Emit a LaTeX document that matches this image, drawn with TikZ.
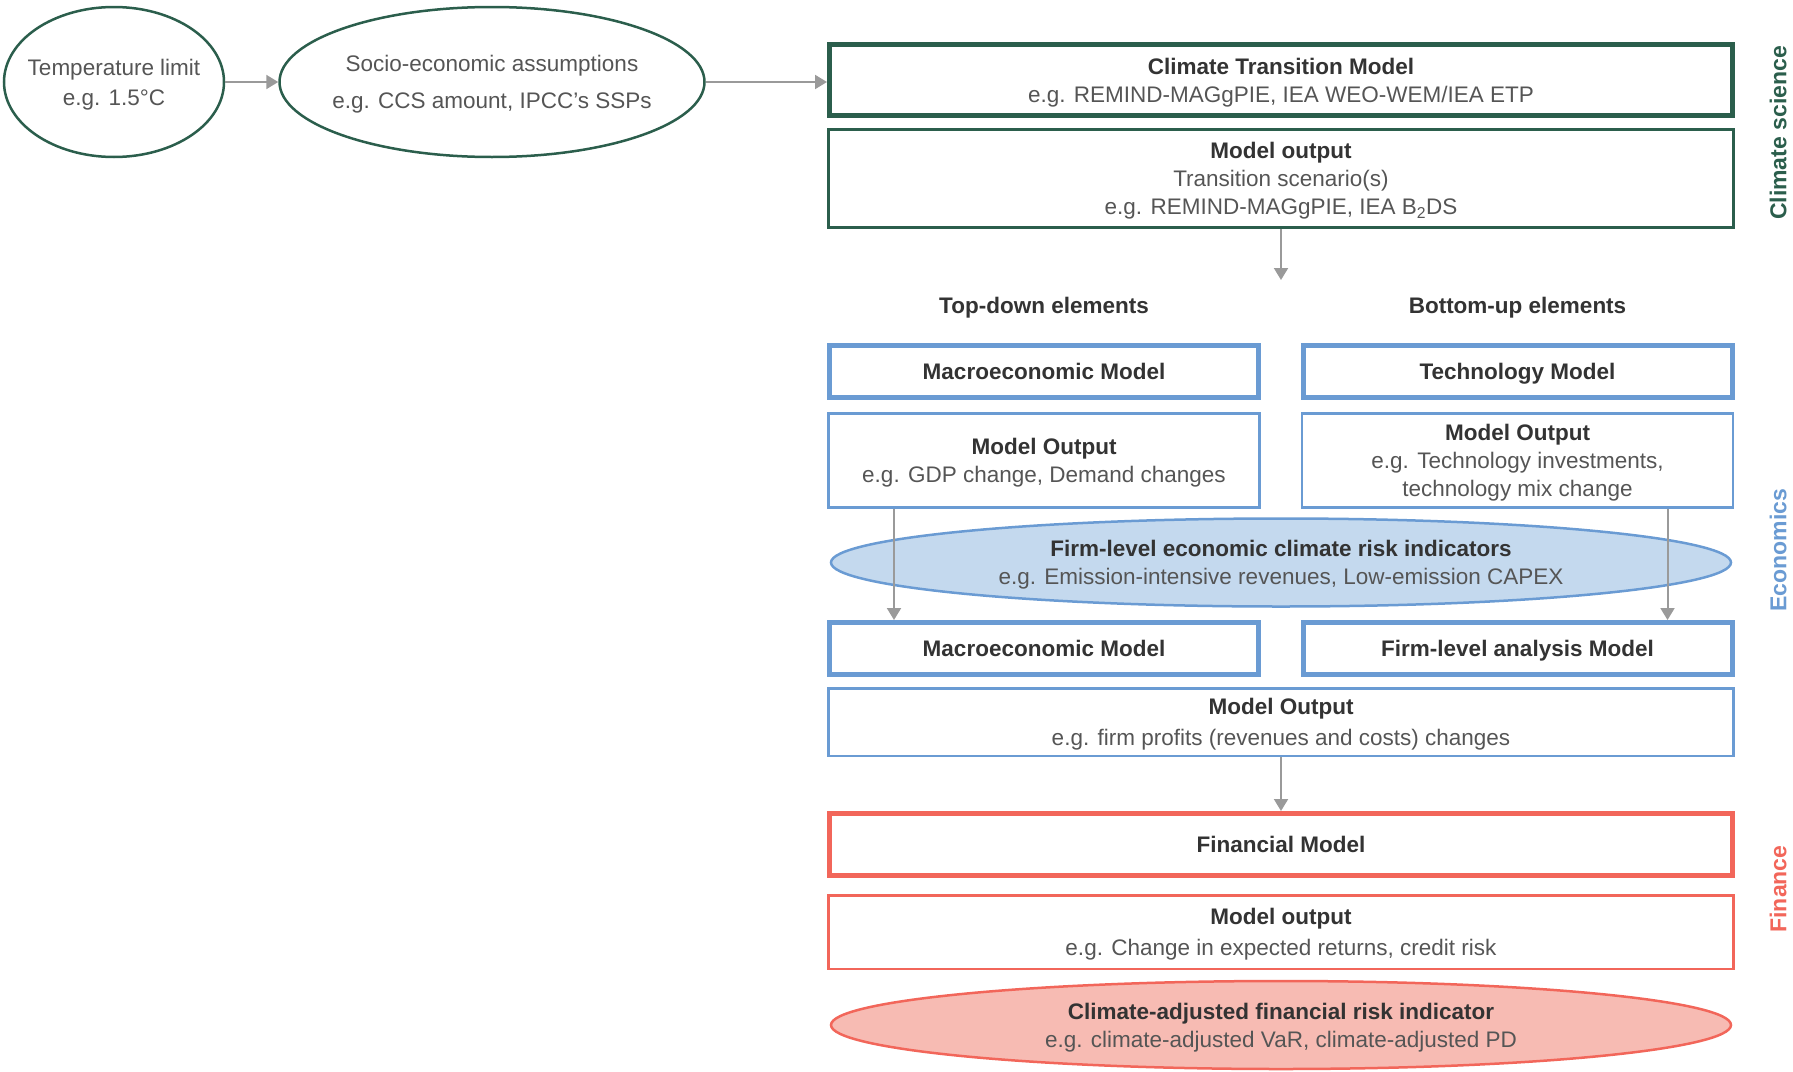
\documentclass[tikz,border=0pt]{standalone}
\usepackage{fontspec}
\setmainfont{Liberation Sans}
\usetikzlibrary{shapes.geometric,arrows.meta}

\definecolor{csgreen}{HTML}{2B5E4C}
\definecolor{ecblue}{HTML}{6A9BD3}
\definecolor{ecfill}{HTML}{C4D9EE}
\definecolor{fired}{HTML}{F2665A}
\definecolor{fifill}{HTML}{F7BBB3}
\definecolor{arrgray}{HTML}{9A9A9A}
\definecolor{headgray}{HTML}{333333}
\definecolor{txtgray}{HTML}{555555}

\newcommand{\hd}[1]{{\bfseries\color{headgray}#1}}

\begin{document}
\begin{tikzpicture}[
	x=1pt, y=-1pt,
	every node/.style={align=center, text=txtgray, text depth=0pt, font=\fontsize{22.5}{28}\selectfont},
	modelbox/.style={rectangle, draw, line width=5pt, inner sep=0pt},
	outbox/.style={rectangle, draw, line width=2.5pt, inner sep=0pt},
	oval/.style={ellipse, draw, line width=2.5pt, inner sep=0pt},
	flow/.style={draw=arrgray, line width=2pt, -{Triangle[length=12pt,width=14pt]}},
	side/.style={rotate=90, font=\fontsize{23}{28}\selectfont\bfseries}
	]
	\useasboundingbox (0,0) rectangle (1793,1071);

	\node[oval, draw=csgreen, minimum width=220pt, minimum height=150pt, inner xsep=-12pt] (temp) at (114,82) {Temperature limit\\[2pt]e.g. 1.5°C};
	\node[oval, draw=csgreen, minimum width=425pt, minimum height=150pt, inner xsep=-25pt] (socio) at (492,82) {Socio-economic assumptions\\[9pt]e.g. CCS amount, IPCC's SSPs};

	\node[modelbox, draw=csgreen, minimum width=903pt, minimum height=71pt] (ctm) at (1281,80) {\hd{Climate Transition Model}\\e.g. REMIND-MAGgPIE, IEA WEO-WEM/IEA ETP};
	\node[outbox, draw=csgreen, minimum width=905pt, minimum height=98pt] (ctmout) at (1281,178.5) {\hd{Model output}\\Transition scenario(s)\\e.g. REMIND-MAGgPIE, IEA B\textsubscript{2}DS};
	\coordinate (split) at (1281,280);

	\node (tdlab) at (1044,305) {\hd{Top-down elements}};
	\node (bulab) at (1517.5,305) {\hd{Bottom-up elements}};

	\node[modelbox, draw=ecblue, minimum width=429pt, minimum height=52pt] (macroa) at (1044,371.5) {\hd{Macroeconomic Model}};
	\node[modelbox, draw=ecblue, minimum width=429pt, minimum height=52pt] (techm) at (1517.5,371.5) {\hd{Technology Model}};
	\node[outbox, draw=ecblue, minimum width=431pt, minimum height=94pt] (outa) at (1044,460.5) {\hd{Model Output}\\e.g. GDP change, Demand changes};
	\node[outbox, draw=ecblue, minimum width=431pt, minimum height=94pt] (outb) at (1517.5,460.5) {\hd{Model Output}\\e.g. Technology investments,\\technology mix change};

	\node[oval, draw=ecblue, fill=ecfill, minimum width=900pt, minimum height=88pt] (ecind) at (1281,562.5) {\hd{Firm-level economic climate risk indicators}\\e.g. Emission-intensive revenues, Low-emission CAPEX};

	\node[modelbox, draw=ecblue, minimum width=429pt, minimum height=52pt] (macrob) at (1044,648.5) {\hd{Macroeconomic Model}};
	\node[modelbox, draw=ecblue, minimum width=429pt, minimum height=52pt] (firmm) at (1517.5,648.5) {\hd{Firm-level analysis Model}};
	\node[outbox, draw=ecblue, minimum width=905pt, minimum height=67.5pt] (outc) at (1281,722) {\hd{Model Output}\\[3pt]e.g. firm profits (revenues and costs) changes};

	\node[modelbox, draw=fired, minimum width=903pt, minimum height=62pt] (finm) at (1281,844.5) {\hd{Financial Model}};
	\node[outbox, draw=fired, minimum width=905pt, minimum height=73.5pt] (finout) at (1281,932) {\hd{Model output}\\[3pt]e.g. Change in expected returns, credit risk};
	\node[oval, draw=fired, fill=fifill, minimum width=900pt, minimum height=88pt] (finind) at (1281,1025) {\hd{Climate-adjusted financial risk indicator}\\e.g. climate-adjusted VaR, climate-adjusted PD};

	\node[side, text=csgreen] (lcs) at (1778,133) {Climate science};
	\node[side, text=ecblue] (lec) at (1778,550) {Economics};
	\node[side, text=fired] (lfi) at (1778,889) {Finance};

	\draw[flow] (temp.east) -- (socio.west);
	\draw[flow] (socio.east) -- (socio.east -| ctm.west);
	\draw[flow] (ctmout.south) -- (split);
	\draw[flow] ([xshift=-150pt]outa.south) -- ([xshift=-150pt]macrob.north);
	\draw[flow] ([xshift=150pt]outb.south) -- ([xshift=150pt]firmm.north);
	\draw[flow] (outc.south) -- (finm.north);
\end{tikzpicture}
\end{document}
